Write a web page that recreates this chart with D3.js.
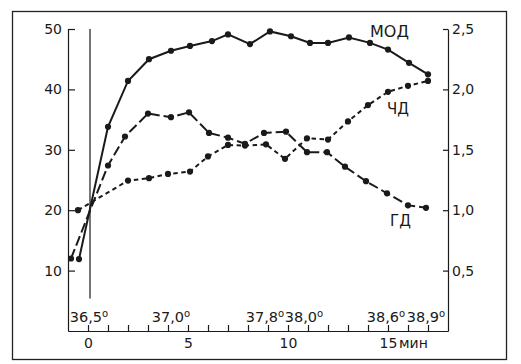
<!DOCTYPE html>
<html>
<head>
<meta charset="utf-8">
<script src="https://cdn.jsdelivr.net/npm/d3@7"></script>
<style>
  body { margin: 0; background: #fff; }
  text { font-family: "DejaVu Sans", sans-serif; fill: #1a1a1a; }
  .axis path, .axis line { stroke: #1a1a1a; stroke-width: 1.2; }
  .axis text { font-size: 14px; }
</style>
</head>
<body>
<script>
// readings (minutes / values)
var modTime = [-0.45, 1, 2, 3.05, 4.15, 5.1, 6.2, 7, 8.1, 9.1, 10.15, 11.1, 12, 13.05, 14.1, 15, 16.05, 17];
var modValues = [11.9, 33.8, 41.4, 45.0, 46.4, 47.2, 48.0, 49.1, 47.5, 49.6, 48.8, 47.7, 47.7, 48.6, 47.7, 46.6, 44.4, 42.5];

var chdTime = [-0.5, 2, 3.05, 4, 5.1, 6, 7, 7.85, 8.9, 9.85, 10.95, 12, 13, 14, 15, 16, 17];
var chdValues = [20.0, 24.9, 25.3, 26.0, 26.4, 28.9, 30.8, 30.7, 30.9, 28.5, 31.9, 31.7, 34.7, 37.4, 39.6, 40.6, 41.4];

// ГД is read on the right axis
var gdTime = [-0.85, 1, 1.85, 3, 4.15, 5.05, 6.05, 7, 7.85, 8.8, 9.9, 10.95, 11.95, 12.85, 13.9, 14.95, 16, 16.9];
var gdValues = [0.60, 1.37, 1.61, 1.80, 1.77, 1.81, 1.64, 1.60, 1.55, 1.64, 1.65, 1.48, 1.48, 1.36, 1.24, 1.14, 1.04, 1.02];

var leftTicks = [10, 20, 30, 40, 50];
var rightTicks = [0.5, 1.0, 1.5, 2.0, 2.5];
var tempLabels = ["36,5", "37,0", "37,8", "38,0", "38,6", "38,9"];
var tempTimes = [0.05, 4.15, 8.85, 10.8, 14.9, 16.9];

var svgWidth = 521;
var svgHeight = 364;
var margin = { top: 29, right: 73, bottom: 33, left: 68 };
var width = svgWidth - margin.left - margin.right;
var height = svgHeight - margin.top - margin.bottom;

var svg = d3.select("body")
  .append("svg")
  .attr("width", svgWidth)
  .attr("height", svgHeight);

// outer frame
svg.append("rect")
  .attr("x", 12.5)
  .attr("y", 11.5)
  .attr("width", 494)
  .attr("height", 348)
  .attr("fill", "none")
  .attr("stroke", "#222")
  .attr("stroke-width", 1.3);

var chartGroup = svg.append("g")
  .attr("transform", `translate(${margin.left}, ${margin.top})`);

var x = d3.scaleLinear().domain([-1, 18]).range([0, width]);
var yLeft = d3.scaleLinear().domain([0, 50]).range([height, 0]);
var yRight = d3.scaleLinear().domain([0, 2.5]).range([height, 0]);

var comma = d => d3.format(".1f")(d).replace(".", ",");

// axes, ticks pointing inward
chartGroup.append("g")
  .attr("class", "axis")
  .call(d3.axisLeft(yLeft).tickValues(leftTicks).tickSizeInner(-7).tickSizeOuter(0).tickPadding(6));

chartGroup.append("g")
  .attr("class", "axis")
  .attr("transform", `translate(${width}, 0)`)
  .call(d3.axisRight(yRight).tickValues(rightTicks).tickFormat(comma).tickSizeInner(-5).tickSizeOuter(0).tickPadding(4));

chartGroup.append("g")
  .attr("class", "axis")
  .attr("transform", `translate(0, ${height})`)
  .call(d3.axisBottom(x).tickValues(d3.range(0, 18)).tickFormat(d => d % 5 === 0 ? d : "")
    .tickSizeInner(-6).tickSizeOuter(0).tickPadding(7));

chartGroup.selectAll(".axis .domain").attr("fill", "none");

chartGroup.append("text")
  .attr("x", x(15) + 11)
  .attr("y", height + 7)
  .attr("dy", "0.71em")
  .style("font-size", "14px")
  .text("мин");

// vertical marker near 0
chartGroup.append("line")
  .attr("x1", x(0.1)).attr("x2", x(0.1))
  .attr("y1", yLeft(50)).attr("y2", yLeft(5.4))
  .attr("stroke", "#1a1a1a")
  .attr("stroke-width", 1.2);

// temperature labels
var temps = chartGroup.selectAll(".temp")
  .data(tempLabels)
  .enter()
  .append("text")
  .attr("class", "temp")
  .attr("x", (d, i) => x(tempTimes[i]))
  .attr("y", height - 9)
  .attr("text-anchor", "middle")
  .style("font-size", "14.5px");
temps.append("tspan").text(d => d);
temps.append("tspan").attr("dy", -5).style("font-size", "10px").text("o");

function drawSeries(times, values, yScale, dash) {
  var pts = times.map((t, i) => [x(t), yScale(values[i])]);
  chartGroup.append("path")
    .attr("d", d3.line()(pts))
    .attr("fill", "none")
    .attr("stroke", "#1a1a1a")
    .attr("stroke-width", 2)
    .attr("stroke-dasharray", dash);
  chartGroup.append("g").selectAll("circle")
    .data(pts)
    .enter()
    .append("circle")
    .attr("cx", d => d[0])
    .attr("cy", d => d[1])
    .attr("r", 3.1)
    .attr("fill", "#1a1a1a");
}

drawSeries(chdTime, chdValues, yLeft, "4.5,3.5");
drawSeries(gdTime, gdValues, yRight, "10,4");
drawSeries(modTime, modValues, yLeft, null);

// series names
chartGroup.append("text").attr("x", x(14.1)).attr("y", yLeft(48.7)).style("font-size", "16px").text("МОД");
chartGroup.append("text").attr("x", x(14.95)).attr("y", yLeft(35.9)).style("font-size", "15px").text("ЧД");
chartGroup.append("text").attr("x", x(15.1)).attr("y", yLeft(17.4)).style("font-size", "15px").text("ГД");
</script>
</body>
</html>
